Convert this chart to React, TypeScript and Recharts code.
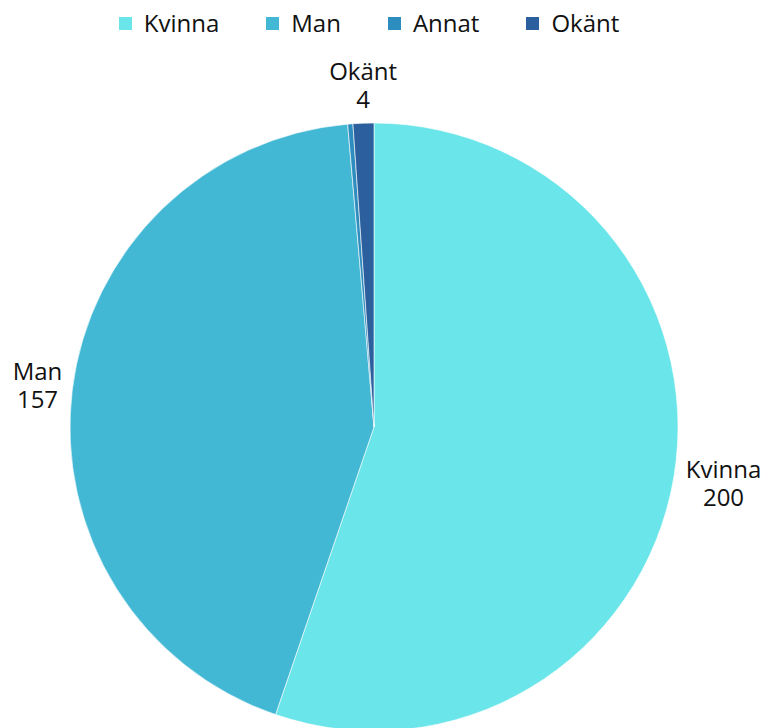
import { PieChart, Pie, Cell } from "recharts";

const categories = ["Kvinna", "Man", "Annat", "Okänt"];
const values = [200, 157, 1, 4];
const colors = ["#6ae5e9", "#42b8d5", "#2e8dbf", "#2c5f9d"];
const labelled = [true, true, false, true];

const data = categories.map((name, i) => ({ name, value: values[i] }));

const RAD = Math.PI / 180;
const FONT = "'Open Sans', sans-serif";
const FONT_SIZE = 24;

let ctx: CanvasRenderingContext2D | null = null;
function textWidth(s: string) {
  if (!ctx) ctx = document.createElement("canvas").getContext("2d");
  if (!ctx) return s.length * 12;
  ctx.font = `${FONT_SIZE}px ${FONT}`;
  return ctx.measureText(s).width;
}

const renderLabel = (props: any) => {
  const { cx, cy, midAngle, outerRadius, index } = props;
  if (!labelled[index]) return null;
  const r = outerRadius + 10;
  const cos = Math.cos(-midAngle * RAD);
  const sin = Math.sin(-midAngle * RAD);
  const x = cx + r * cos;
  const y = cy + r * sin;
  const lines = [categories[index], String(values[index])];
  const w = Math.max(...lines.map(textWidth));
  // lines are centred inside the label block, block sits beside the slice
  let mid = x;
  if (cos > 0.5) mid = x + 2 + w / 2;
  else if (cos < -0.5) mid = x - w / 2;
  let base = y - 9;
  if (sin < -0.5) base = y - 33;
  else if (sin > 0.1) base = y - 1;
  return (
    <g>
      <text x={mid} y={base} textAnchor="middle" fill="#111" fontSize={FONT_SIZE} fontFamily={FONT}>
        {lines[0]}
      </text>
      <text x={mid} y={base + 28} textAnchor="middle" fill="#111" fontSize={FONT_SIZE} fontFamily={FONT}>
        {lines[1]}
      </text>
    </g>
  );
};

export default function App() {
  return (
    <div style={{ position: "absolute", left: 0, top: 0, width: 763, height: 728, background: "#fff" }}>
      <div
        style={{
          position: "absolute",
          left: 0,
          top: 11,
          width: 738,
          display: "flex",
          justifyContent: "center",
          alignItems: "center",
          fontFamily: FONT,
          fontSize: FONT_SIZE,
          lineHeight: "24px",
          color: "#111",
        }}
      >
        {categories.map((c, i) => (
          <div key={c} style={{ display: "flex", alignItems: "center", marginRight: i < categories.length - 1 ? 47 : 0 }}>
            <div style={{ width: 13, height: 13, background: colors[i], marginRight: 12 }} />
            <span>{c}</span>
          </div>
        ))}
      </div>
      <PieChart width={763} height={728} margin={{ top: 0, right: 0, bottom: 0, left: 0 }}>
        <Pie
          data={data}
          dataKey="value"
          nameKey="name"
          cx={374}
          cy={427}
          outerRadius={304}
          startAngle={90}
          endAngle={-270}
          stroke="#fff"
          strokeWidth={0.6}
          label={renderLabel}
          labelLine={false}
          isAnimationActive={false}
        >
          {data.map((d, i) => (
            <Cell key={d.name} fill={colors[i]} />
          ))}
        </Pie>
      </PieChart>
    </div>
  );
}
